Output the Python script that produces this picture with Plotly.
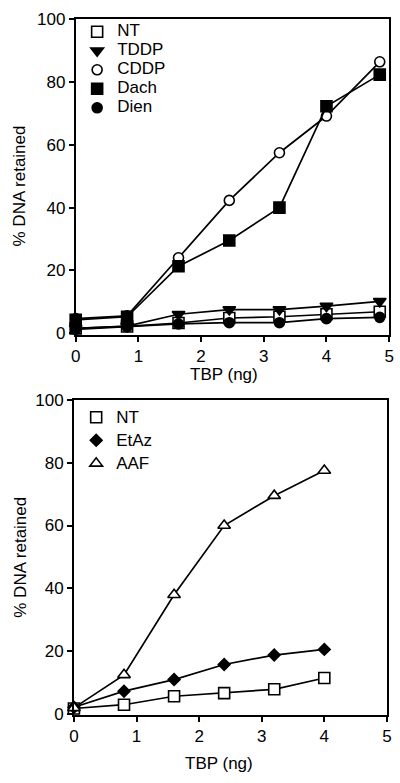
import plotly.graph_objects as go

# ---- data (top panel) ----
tbp_top = [0, 0.82, 1.64, 2.45, 3.25, 4.0, 4.85]
nt_top = [1.5, 2.1, 3.2, 4.8, 5.2, 6.0, 6.8]
tddp = [1.5, 2.2, 6.0, 7.5, 7.5, 8.6, 10.1]
cddp = [4.6, 5.5, 24.0, 42.3, 57.5, 69.2, 86.5]
dach = [4.2, 5.2, 21.3, 29.5, 40.0, 72.3, 82.4]
dien = [1.2, 2.0, 2.9, 3.3, 3.3, 4.6, 5.0]

# ---- data (bottom panel) ----
tbp_bot = [0, 0.8, 1.6, 2.4, 3.2, 4.0]
nt_bot = [1.8, 3.0, 5.7, 6.7, 7.9, 11.5]
etaz = [2.2, 7.3, 11.0, 15.8, 18.8, 20.6]
aaf = [2.0, 12.5, 38.0, 60.0, 69.5, 77.5]

x_ticks = [0, 1, 2, 3, 4, 5]
y_ticks = [0, 20, 40, 60, 80, 100]
x_title = "TBP (ng)"
y_title = "% DNA retained"

FONT = "Liberation Sans, Arial, Helvetica, sans-serif"
W, H = 400, 783

top_series = [
    ("NT", nt_top, "square", "white", 11),
    ("TDDP", tddp, "triangle-down", "black", 11),
    ("CDDP", cddp, "circle", "white", 10),
    ("Dach", dach, "square", "black", 11),
    ("Dien", dien, "circle", "black", 10),
]
bot_series = [
    ("NT", nt_bot, "square", "white", 11),
    ("EtAz", etaz, "diamond", "black", 9),
    ("AAF", aaf, "triangle-up", "white", 11),
]

fig = go.Figure()

def add_series(xs, series, xa, ya, legend):
    for name, ys, sym, fill, size in series:
        fig.add_trace(go.Scatter(
            x=xs, y=ys, mode="lines+markers", xaxis=xa, yaxis=ya,
            line=dict(color="black", width=1.7),
            marker=dict(symbol=sym, color=fill, size=size,
                        line=dict(color="black", width=1.6)),
            showlegend=False, cliponaxis=False))
    for name, ys, sym, fill, size in series:
        fig.add_trace(go.Scatter(
            x=[None], y=[None], mode="markers", xaxis=xa, yaxis=ya,
            name='<span style="font-size:17px">%s</span>' % name,
            marker=dict(symbol=sym, color=fill, size=size,
                        line=dict(color="black", width=1.6)),
            showlegend=True, legend=legend))

add_series(tbp_top, top_series, "x", "y", "legend")
add_series(tbp_bot, bot_series, "x2", "y2", "legend2")

def px_x(p):
    return p / W

def px_y(p):
    return 1 - p / H

axis_common = dict(
    showline=True, linecolor="black", linewidth=1.7, mirror=True,
    ticks="outside", ticklen=5, tickwidth=1.7, tickcolor="black",
    showgrid=False, zeroline=False, ticklabeloverflow="allow",
    tickfont=dict(family=FONT, size=17, color="black"),
)

fig.update_layout(
    width=W, height=H,
    margin=dict(l=0, r=0, t=0, b=0),
    paper_bgcolor="white", plot_bgcolor="white",
    font=dict(family=FONT, size=17, color="black"),
    xaxis=dict(domain=[px_x(72.5), px_x(394)], range=[0, 5], anchor="y",
               tickvals=x_ticks, **axis_common),
    yaxis=dict(domain=[px_y(333.6), px_y(10.7)], range=[-0.6, 100], anchor="x",
               tickvals=y_ticks, **axis_common),
    xaxis2=dict(domain=[px_x(70.7), px_x(391.7)], range=[0, 5], anchor="y2",
                tickvals=x_ticks, **axis_common),
    yaxis2=dict(domain=[px_y(722.7), px_y(400)], range=[-0.3, 100], anchor="x2",
                tickvals=y_ticks, **axis_common),
    legend=dict(x=px_x(74), y=px_y(8.5), xanchor="left", yanchor="top",
                bgcolor="rgba(0,0,0,0)", borderwidth=0,
                font=dict(family=FONT, size=12, color="black")),
    legend2=dict(x=px_x(73), y=px_y(401), xanchor="left", yanchor="top",
                 bgcolor="rgba(0,0,0,0)", borderwidth=0,
                 font=dict(family=FONT, size=15.4, color="black")),
    showlegend=True,
)

annots = [
    (x_title, 225, 374, 0),
    (x_title, 219, 772, 0),
    (y_title, 15, 181, -90),
    (y_title, 15, 561, -90),
]
for text, ax, ay, ang in annots:
    fig.add_annotation(text=text, x=px_x(ax), y=px_y(ay), xref="paper", yref="paper",
                       xanchor="center", yanchor="middle", showarrow=False,
                       textangle=ang, font=dict(family=FONT, size=17, color="black"))

fig.write_html(
    "out.html",
    config={"displayModeBar": False},
    post_script="document.body.style.margin='0';document.body.style.overflow='hidden';",
)
